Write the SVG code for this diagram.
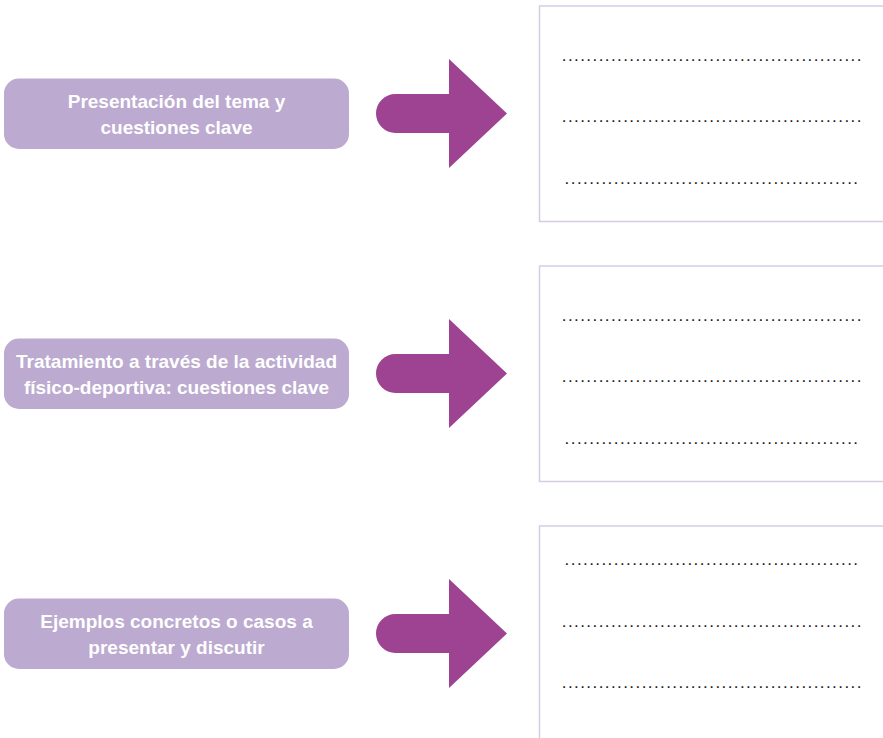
<svg xmlns="http://www.w3.org/2000/svg" width="883" height="738" viewBox="0 0 883 738">
<defs>
<style>
.pill{fill:#bcaad0}
.lbl{font-family:"Liberation Sans",Arial,sans-serif;font-weight:bold;font-size:19px;fill:#ffffff;text-anchor:middle}
.arrow{fill:#9e4391}
.box{fill:#ffffff;stroke:#d6cde5;stroke-width:1.5}
.dots{font-family:"Liberation Sans",Arial,sans-serif;font-size:17px;fill:#1a1a1a;letter-spacing:1.42px}
</style>
<path id="arr" d="M395.5,94 H449 V59 L507,113.5 L449,168 V133 H395.5 A19.5,19.5 0 0 1 395.5,94 Z"/>
</defs>
<rect width="883" height="738" fill="#ffffff"/>
<g id="node1">
<rect class="pill" x="4" y="78.5" width="345" height="70.5" rx="15"/>
<text class="lbl" x="176.5" y="108">Presentación del tema y</text>
<text class="lbl" x="176.5" y="134">cuestiones clave</text>
</g>
<g id="node2">
<rect class="pill" x="4" y="338.5" width="345" height="70.5" rx="15"/>
<text class="lbl" x="176.5" y="368">Tratamiento a través de la actividad</text>
<text class="lbl" x="176.5" y="394">físico-deportiva: cuestiones clave</text>
</g>
<g id="node3">
<rect class="pill" x="4" y="598.5" width="345" height="70.5" rx="15"/>
<text class="lbl" x="176.5" y="628">Ejemplos concretos o casos a</text>
<text class="lbl" x="176.5" y="654">presentar y discutir</text>
</g>
<g id="connectors">
<use href="#arr" class="arrow"/>
<use href="#arr" class="arrow" y="260"/>
<use href="#arr" class="arrow" y="520"/>
</g>
<g id="box1">
<rect class="box" x="539.5" y="6" width="400" height="215.5"/>
<text class="dots" x="561.8" y="61">.................................................</text>
<text class="dots" x="561.8" y="122">.................................................</text>
<text class="dots" x="564.6" y="183.5">................................................</text>
</g>
<g id="box2">
<rect class="box" x="539.5" y="266" width="400" height="215.5"/>
<text class="dots" x="561.8" y="321">.................................................</text>
<text class="dots" x="561.8" y="382">.................................................</text>
<text class="dots" x="564.6" y="443.5">................................................</text>
</g>
<g id="box3">
<rect class="box" x="539.5" y="526" width="400" height="300"/>
<text class="dots" x="564.6" y="565">................................................</text>
<text class="dots" x="561.8" y="627">.................................................</text>
<text class="dots" x="561.8" y="687.5">.................................................</text>
</g>
</svg>
